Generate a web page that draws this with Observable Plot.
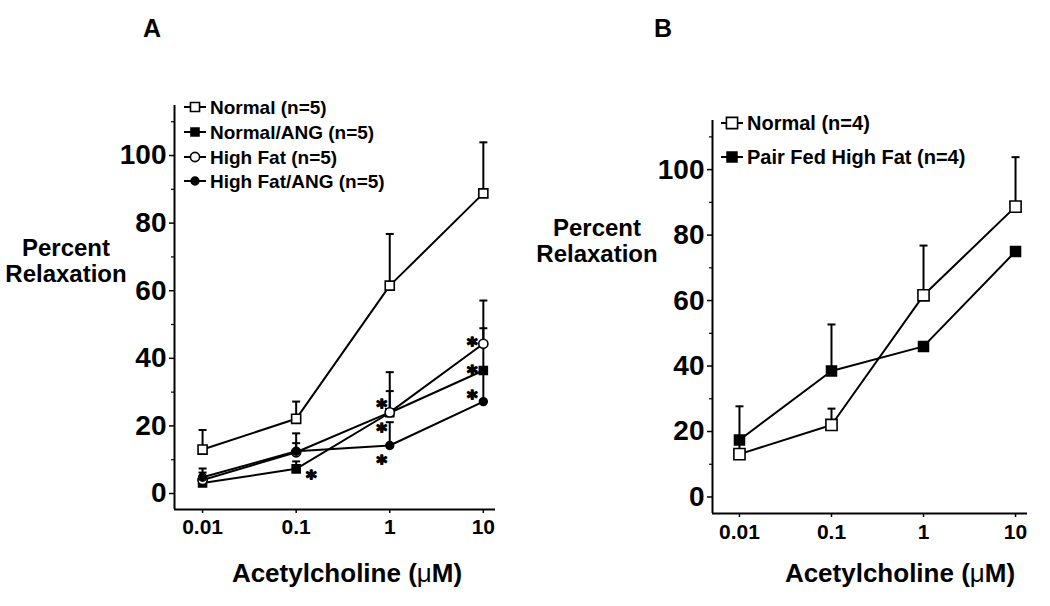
<!DOCTYPE html>
<html>
<head>
<meta charset="utf-8">
<script src="https://cdn.jsdelivr.net/npm/d3@7"></script>
<script src="https://cdn.jsdelivr.net/npm/@observablehq/plot@0.6"></script>
<style>
  html, body { margin: 0; padding: 0; background: #fff; }
  #root { position: relative; width: 1050px; height: 606px; background: #fff; overflow: hidden; font-family: "Liberation Sans", Arial, sans-serif; }
  .panel { position: absolute; top: 0; }
  #overlay { position: absolute; left: 0; top: 0; pointer-events: none; }
</style>
</head>
<body>
<div id="root"></div>
<script>
// ---------- data ----------
const doses = [0.01, 0.1, 1, 10];
const doseLabels = ["0.01", "0.1", "1", "10"];
const yMajorTicks = [0, 20, 40, 60, 80, 100];
const yMinorTicks = [10, 30, 50, 70, 90, 110];

// Panel A
const seriesA = ["Normal (n=5)", "Normal/ANG (n=5)", "High Fat (n=5)", "High Fat/ANG (n=5)"];
const normalA       = [13.0, 22.1, 61.5, 88.8];
const normalAErr    = [5.8, 5.1, 15.3, 15.1];
const normalAngA    = [3.1, 7.3, 23.9, 36.4];
const normalAngAErr = [0, 2.2, 6.4, 12.5];
const highFatA      = [4.0, 12.2, 24.0, 44.3];
const highFatAErr   = [2.2, 5.6, 11.9, 12.8];
const highFatAngA   = [4.8, 12.5, 14.2, 27.2];
const highFatAngAErr= [2.6, 2.4, 6.9, 9.4];

// significance asterisks (panel A)
const starDose  = [0.1, 1, 1, 1, 10, 10, 10];
const starValue = [6.2, 27.2, 20.1, 10.7, 45.6, 37.3, 29.9];

// Panel B
const seriesB = ["Normal (n=4)", "Pair Fed High Fat (n=4)"];
const normalB     = [13.1, 22.0, 61.6, 88.7];
const normalBErr  = [5.5, 5.0, 15.2, 15.1];
const pairFedB    = [17.4, 38.5, 46.0, 75.0];
const pairFedBErr = [10.3, 14.2, 0, 0];

// ---------- build tables ----------
function table(series, values, errs) {
  return doses.map((dose, i) => ({series, dose, value: values[i], err: errs[i]}));
}
const rowsA = [
  ...table(seriesA[0], normalA, normalAErr),
  ...table(seriesA[1], normalAngA, normalAngAErr),
  ...table(seriesA[2], highFatA, highFatAErr),
  ...table(seriesA[3], highFatAngA, highFatAngAErr)
];
const rowsB = [
  ...table(seriesB[0], normalB, normalBErr),
  ...table(seriesB[1], pairFedB, pairFedBErr)
];
const starsA = starDose.map((dose, i) => ({dose, value: starValue[i]}));

const FONT = "Liberation Sans, Arial, sans-serif";

const capSymbol = {
  draw(context, size) {
    const r = Math.sqrt(size / Math.PI);
    context.moveTo(-r, 0);
    context.lineTo(r, 0);
  }
};

function makePanel(opts) {
  const {rows, series, styles, xDomain, yDomain, margins, width, xPad, yPad, stars} = opts;
  const marks = [];
  // axis lines
  marks.push(Plot.ruleX([xDomain[0]], {stroke: "black", strokeWidth: 2}));
  marks.push(Plot.ruleY([yDomain[0]], {stroke: "black", strokeWidth: 2}));
  // axes
  marks.push(Plot.axisY({ticks: yMajorTicks, tickSize: 5, tickPadding: yPad, fontSize: 28, fontWeight: "bold", fontFamily: FONT, strokeWidth: 1.5, label: null, tickFormat: d => String(d)}));
  marks.push(Plot.axisY({ticks: yMinorTicks.filter(t => t < yDomain[1]), tickSize: 3, strokeWidth: 1.2, label: null, tickFormat: () => ""}));
  marks.push(Plot.axisX({ticks: doses, tickSize: 4, tickPadding: xPad, fontSize: 21, fontWeight: "bold", fontFamily: FONT, strokeWidth: 1.5, label: null, tickFormat: d => doseLabels[doses.indexOf(d)]}));
  // lines
  marks.push(Plot.line(rows, {x: "dose", y: "value", z: "series", stroke: "black", strokeWidth: 2}));
  // error bars (upper only, with caps)
  const withErr = rows.filter(d => d.err > 0);
  marks.push(Plot.ruleX(withErr, {x: "dose", y1: "value", y2: d => d.value + d.err, stroke: "black", strokeWidth: 2}));
  marks.push(Plot.dot(withErr, {x: "dose", y: d => d.value + d.err, symbol: capSymbol, r: 4, stroke: "black", strokeWidth: 2}));
  // markers
  series.forEach((s, i) => {
    const st = styles[i];
    marks.push(Plot.dot(rows.filter(d => d.series === s), {x: "dose", y: "value", symbol: st.symbol, r: st.r, fill: st.fill, stroke: "black", strokeWidth: 1.6}));
  });
  if (stars) {
    const offsets = new Map([[0.1, 15], [1, -8], [10, -11]]);
    for (const [dose, dx] of offsets) {
      marks.push(Plot.text(stars.filter(d => d.dose === dose), {
        x: "dose", y: "value", text: () => "*",
        fontSize: 20, fontWeight: "bold", fontFamily: "DejaVu Sans",
        fill: "black", stroke: "black", strokeWidth: 1.5,
        lineAnchor: "middle", dx, dy: 5
      }));
    }
  }
  const svg = Plot.plot({
    width, height: 606,
    marginLeft: margins[0], marginRight: margins[1], marginTop: margins[2], marginBottom: margins[3],
    x: {type: "log", domain: xDomain},
    y: {domain: yDomain},
    style: {background: "transparent", fontFamily: FONT, color: "black", overflow: "visible"},
    marks
  });
  d3.select(svg).selectAll('g[aria-label="y-axis tick label"]')
    .attr("font-size", 28).attr("font-weight", "bold").attr("font-family", FONT);
  d3.select(svg).selectAll('g[aria-label="x-axis tick label"]')
    .attr("font-size", 21).attr("font-weight", "bold").attr("font-family", FONT);
  return svg;
}

const stylesA = [
  {symbol: "square", r: 5.1, fill: "white"},
  {symbol: "square", r: 4.5, fill: "black"},
  {symbol: "circle", r: 4.6, fill: "white"},
  {symbol: "circle", r: 3.9, fill: "black"}
];
const stylesB = [
  {symbol: "square", r: 6.3, fill: "white"},
  {symbol: "square", r: 5.6, fill: "black"}
];

const root = document.getElementById("root");

const plotA = makePanel({
  rows: rowsA, series: seriesA, styles: stylesA,
  xDomain: [Math.pow(10, -2.3), Math.pow(10, 1.13)],
  yDomain: [-4.73, 114.8],
  margins: [174, 30, 105, 97], width: 525, xPad: 6, yPad: 3, stars: starsA
});
plotA.classList.add("panel");
plotA.style.left = "0px";
root.appendChild(plotA);

const plotB = makePanel({
  rows: rowsB, series: seriesB, styles: stylesB,
  xDomain: [Math.pow(10, -2.293), Math.pow(10, 1.13)],
  yDomain: [-5.04, 115.0],
  margins: [187, 23, 120, 93], width: 525, xPad: 7, yPad: 3, stars: null
});
plotB.classList.add("panel");
plotB.style.left = "525px";
root.appendChild(plotB);

// ---------- overlay: titles, legends ----------
const ov = d3.select(root).append("svg").attr("id", "overlay").attr("width", 1050).attr("height", 606)
  .style("font-family", FONT);

function txt(x, y, s, size, anchor = "middle") {
  return ov.append("text").attr("x", x).attr("y", y).attr("text-anchor", anchor)
    .attr("dominant-baseline", "central").attr("font-size", size).attr("font-weight", "bold").text(s);
}
txt(152, 28, "A", 25);
txt(663, 28, "B", 25);
txt(66, 247, "Percent", 24);
txt(66, 273, "Relaxation", 24);
txt(597, 227, "Percent", 24);
txt(597, 253, "Relaxation", 24);

function xTitle(x, y) {
  const t = ov.append("text").attr("x", x).attr("y", y).attr("text-anchor", "middle")
    .attr("dominant-baseline", "central").attr("font-size", 26).attr("font-weight", "bold");
  t.append("tspan").text("Acetylcholine (");
  t.append("tspan").attr("font-weight", "normal").text("\u03bc");
  t.append("tspan").text("M)");
}
xTitle(347, 573);
xTitle(900, 573);

function legend(x0, rowsY, labels, styles, fontSize, lineLen) {
  labels.forEach((lab, i) => {
    const y = rowsY[i], st = styles[i];
    const cx = x0 + lineLen / 2;
    ov.append("line").attr("x1", x0).attr("x2", x0 + lineLen).attr("y1", y).attr("y2", y)
      .attr("stroke", "black").attr("stroke-width", 2);
    const sym = d3.symbol().type(st.symbol === "square" ? d3.symbolSquare : d3.symbolCircle)
      .size(st.r * st.r * Math.PI);
    ov.append("path").attr("d", sym()).attr("transform", `translate(${cx},${y})`)
      .attr("fill", st.fill).attr("stroke", "black").attr("stroke-width", 1.6);
    ov.append("text").attr("x", x0 + lineLen + 4).attr("y", y).attr("dominant-baseline", "central")
      .attr("font-size", fontSize).attr("font-weight", "bold").text(lab);
  });
}
legend(184, [107, 132, 157, 181], seriesA, stylesA, 19, 22);
legend(721, [123, 157], seriesB, stylesB, 20, 22);
</script>
</body>
</html>
